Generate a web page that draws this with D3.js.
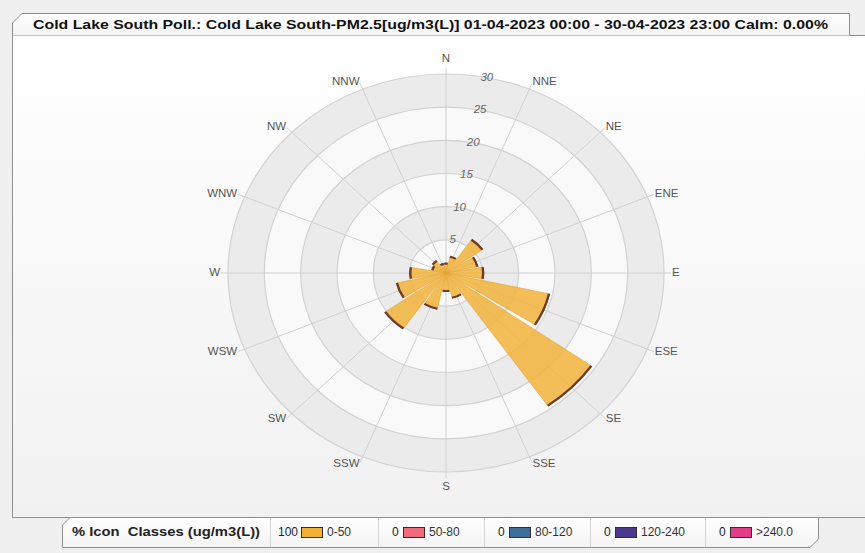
<!DOCTYPE html>
<html>
<head>
<meta charset="utf-8">
<script src="https://cdn.jsdelivr.net/npm/d3@7"></script>
<style>
  body { margin: 0; background: #f0f0f0; }
  svg { display: block; }
  text { font-family: "Liberation Sans", Arial, sans-serif; }
</style>
</head>
<body>
<div id="chart"></div>
<script>
// Wind directions and % of hours in each sector (PM2.5 class 0-50)
var directions = ["N", "NNE", "NE", "ENE", "E", "ESE", "SE", "SSE",
                  "S", "SSW", "SW", "WSW", "W", "WNW", "NW", "NNW"];
var frequencies = [1.5, 2.6, 6.2, 4.5, 5.2, 14.6, 24.5, 3.9,
                   2.8, 5.6, 10.3, 7.0, 5.0, 2.0, 2.3, 1.5];

// radial axis ticks (%)
var radialTicks = [5, 10, 15, 20, 25, 30];

// legend classes
var classLabels = ["0-50", "50-80", "80-120", "120-240", ">240.0"];
var classPercents = [100, 0, 0, 0, 0];
var classColors = ["#f1b234", "#f26b7a", "#3d6f9c", "#4b3a8c", "#e63b8a"];

var titleText = "Cold Lake South Poll.: Cold Lake South-PM2.5[ug/m3(L)] 01-04-2023 00:00 - 30-04-2023 23:00 Calm: 0.00%";

var svgWidth = 865;
var svgHeight = 553;

// rose geometry (the picture is a bit stretched horizontally)
var cx = 446, cy = 273;
var rx = 218, ry = 199;

var svg = d3.select("#chart")
  .append("svg")
  .attr("width", svgWidth)
  .attr("height", svgHeight);

var defs = svg.append("defs");
var pg = defs.append("linearGradient").attr("id", "panelGrad")
  .attr("x1", 0).attr("y1", 0).attr("x2", 0).attr("y2", 1);
pg.append("stop").attr("offset", "0%").attr("stop-color", "#ffffff");
pg.append("stop").attr("offset", "100%").attr("stop-color", "#f1f1f1");

var tg = defs.append("linearGradient").attr("id", "tabGrad")
  .attr("x1", 0).attr("y1", 0).attr("x2", 0).attr("y2", 1);
tg.append("stop").attr("offset", "0%").attr("stop-color", "#ffffff");
tg.append("stop").attr("offset", "100%").attr("stop-color", "#f4f4f4");

// main panel
svg.append("rect")
  .attr("x", 12.5).attr("y", 35.5)
  .attr("width", 900).attr("height", 482)
  .attr("fill", "url(#panelGrad)")
  .attr("stroke", "#8e8e8e");

// title tab
svg.append("path")
  .attr("d", "M12.5,35.5 L12.5,23 L22,13.5 L849.5,13.5 L849.5,35.5")
  .attr("fill", "url(#tabGrad)")
  .attr("stroke", "#8e8e8e");

svg.append("text")
  .attr("x", 33).attr("y", 28.5)
  .attr("font-family", "'DejaVu Sans Condensed', 'Liberation Sans Narrow', sans-serif")
  .attr("font-weight", "bold")
  .attr("font-size", 12.5)
  .attr("fill", "#111")
  .attr("textLength", 795)
  .attr("lengthAdjust", "spacingAndGlyphs")
  .text(titleText);

// ---- rose ----
var rScale = d3.scaleLinear().domain([0, 30]).range([0, rx]);
var angle = d3.scaleLinear().domain([0, 16]).range([0, 2 * Math.PI]);

// group scaled vertically to make the ellipse
var rose = svg.append("g")
  .attr("transform", `translate(${cx},${cy}) scale(1,${ry / rx})`);

// bands, outermost first
var bands = radialTicks.slice().reverse();
rose.selectAll(".band")
  .data(bands)
  .enter()
  .append("circle")
  .attr("class", "band")
  .attr("r", d => rScale(d))
  .attr("fill", d => (d / 5) % 2 === 0 ? "#ebebeb" : "#f9f9f9")
  .attr("stroke", "#d2d2d2")
  .attr("stroke-width", 1.2)
  .attr("vector-effect", "non-scaling-stroke");

// radial spokes
rose.selectAll(".spoke")
  .data(directions)
  .enter()
  .append("line")
  .attr("class", "spoke")
  .attr("x1", 0).attr("y1", 0)
  .attr("x2", (d, i) => (rScale(30) + 7) * Math.sin(angle(i)))
  .attr("y2", (d, i) => -(rScale(30) + 7) * Math.cos(angle(i)))
  .attr("stroke", "#d0d0d0")
  .attr("stroke-width", 1)
  .attr("vector-effect", "non-scaling-stroke");

// petals
var half = (10 / 180) * Math.PI;
var petalArc = d3.arc()
  .innerRadius(0)
  .outerRadius(d => rScale(d.v))
  .startAngle(d => angle(d.i) - half)
  .endAngle(d => angle(d.i) + half);

var edgeArc = d3.arc()
  .innerRadius(d => rScale(d.v) - 1.8)
  .outerRadius(d => rScale(d.v) + 0.6)
  .startAngle(d => angle(d.i) - half)
  .endAngle(d => angle(d.i) + half);

var petalData = frequencies.map((v, i) => ({ v: v, i: i }));

rose.selectAll(".petal")
  .data(petalData)
  .enter()
  .append("path")
  .attr("class", "petal")
  .attr("d", petalArc)
  .attr("fill", "#f1b441")
  .attr("fill-opacity", 0.88)
  .attr("stroke", "#e4a32e")
  .attr("stroke-width", 0.6)
  .attr("vector-effect", "non-scaling-stroke");

rose.selectAll(".edge")
  .data(petalData)
  .enter()
  .append("path")
  .attr("class", "edge")
  .attr("d", edgeArc)
  .attr("fill", "#6b3b2c");

// direction labels
svg.selectAll(".dirLabel")
  .data(directions)
  .enter()
  .append("text")
  .attr("class", "dirLabel")
  .attr("x", (d, i) => cx + (rx + 8) * Math.sin(angle(i)))
  .attr("y", (d, i) => {
    var c = Math.cos(angle(i));
    var extra = Math.abs(c) > 0.99 ? 7 : 0;
    return cy - (ry + 8 + extra) * c;
  })
  .attr("text-anchor", (d, i) => {
    var s = Math.sin(angle(i));
    return s > 0.1 ? "start" : (s < -0.1 ? "end" : "middle");
  })
  .attr("dominant-baseline", "middle")
  .attr("font-size", 11.5)
  .attr("fill", "#555")
  .text(d => d);

// radial tick labels, italic, along a slight angle
var tickAng = (10.8 / 180) * Math.PI;
svg.selectAll(".tickLabel")
  .data(radialTicks)
  .enter()
  .append("text")
  .attr("class", "tickLabel")
  .attr("x", d => cx + rScale(d) * Math.sin(tickAng))
  .attr("y", d => cy - rScale(d) * (ry / rx) * Math.cos(tickAng))
  .attr("text-anchor", "middle")
  .attr("dominant-baseline", "middle")
  .attr("font-size", 11.5)
  .attr("font-style", "italic")
  .attr("fill", "#666")
  .text(d => d);

// ---- legend ----
svg.append("path")
  .attr("d", "M62.5,547.5 L62.5,525 L70,517.5 L818.5,517.5 L818.5,539 L810,547.5 Z")
  .attr("fill", "url(#tabGrad)")
  .attr("stroke", "#8e8e8e");

var legY = 533;
svg.append("text")
  .attr("x", 72).attr("y", legY)
  .attr("dominant-baseline", "middle")
  .attr("font-size", 12.5)
  .attr("font-weight", "bold")
  .attr("fill", "#222")
  .attr("textLength", 188)
  .attr("lengthAdjust", "spacingAndGlyphs")
  .attr("xml:space", "preserve")
  .style("white-space", "pre")
  .text("% Icon  Classes (ug/m3(L))");

var cellStarts = [270, 378, 484, 590, 705];

svg.selectAll(".divider")
  .data(cellStarts)
  .enter()
  .append("line")
  .attr("x1", d => d + 0.5).attr("x2", d => d + 0.5)
  .attr("y1", 518).attr("y2", 547)
  .attr("stroke", "#d6d6d6");

var cells = svg.selectAll(".cell")
  .data(classLabels)
  .enter()
  .append("g")
  .attr("class", "cell")
  .attr("transform", (d, i) => `translate(${cellStarts[i]},0)`);

cells.append("text")
  .attr("x", (d, i) => i === 0 ? 8 : 14)
  .attr("y", legY)
  .attr("dominant-baseline", "middle")
  .attr("font-size", 12)
  .attr("fill", "#222")
  .text((d, i) => classPercents[i]);

cells.append("rect")
  .attr("x", (d, i) => i === 0 ? 31.5 : 25.5)
  .attr("y", 527.5)
  .attr("width", 21).attr("height", 10)
  .attr("fill", (d, i) => classColors[i])
  .attr("stroke", "#3a2a2a");

cells.append("text")
  .attr("x", (d, i) => i === 0 ? 57 : 51)
  .attr("y", legY)
  .attr("dominant-baseline", "middle")
  .attr("font-size", 12)
  .attr("fill", "#333")
  .text(d => d);
</script>
</body>
</html>
